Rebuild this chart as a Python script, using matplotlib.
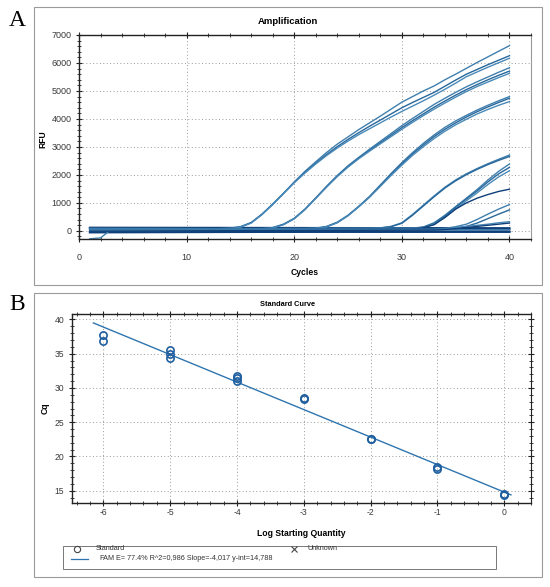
import matplotlib
matplotlib.use("Agg")
import matplotlib.pyplot as plt
from matplotlib.patches import Rectangle
from matplotlib.lines import Line2D
from matplotlib.ticker import MultipleLocator

plt.rcParams['font.family'] = ['Liberation Sans', 'DejaVu Sans']
plt.rcParams['axes.unicode_minus'] = False

# ---- panel A: amplification curves (RFU read per cycle) ----
cyc_base = [1, 10, 20, 30, 40]
base_lines = [
    [120, 115, 110, 105, 100],
    [100, 95, 92, 90, 88],
    [75, 70, 66, 62, 60],
    [-5, -10, -12, -15, -15],
    [-30, -32, -35, -38, -40],
    [-60, -50, -40, -35, -30],
]
cyc_dip = [1, 2, 3, 5, 10, 20, 30, 40]
rfu_dip = [-285, -250, 50, 70, 60, 50, 40, 40]

cyc_g1 = [1, 13, 14, 15, 16, 17, 18, 19, 20, 21, 22, 23, 24, 25, 26, 27,
          28, 29, 30, 31, 32, 33, 34, 35, 36, 37, 38, 39, 40]
rfu_g1a = [90, 80, 100, 150, 300, 600, 960, 1340, 1750, 2130, 2470, 2800,
           3100, 3360, 3620, 3860, 4100, 4350, 4600, 4800, 5000, 5180, 5400,
           5600, 5810, 6020, 6220, 6420, 6620]
rfu_g1b = [60, 60, 90, 140, 290, 590, 950, 1340, 1730, 2090, 2420, 2730,
           3010, 3270, 3510, 3740, 3960, 4180, 4400, 4590, 4770, 4950, 5170,
           5390, 5600, 5770, 5940, 6100, 6260]
rfu_g1c = [40, 40, 70, 130, 280, 580, 940, 1330, 1720, 2070, 2390, 2690,
           2960, 3210, 3440, 3650, 3860, 4070, 4270, 4460, 4650, 4850, 5060,
           5280, 5510, 5680, 5850, 6010, 6170]

cyc_g2 = [1, 17, 18, 19, 20, 21, 22, 23, 24, 25, 26, 27, 28, 29, 30, 31,
          32, 33, 34, 35, 36, 37, 38, 39, 40]
rfu_g2a = [70, 80, 120, 240, 450, 780, 1180, 1590, 1980, 2330, 2630, 2920,
           3200, 3480, 3760, 4020, 4270, 4520, 4740, 4950, 5150, 5330, 5500,
           5670, 5830]
rfu_g2b = [50, 60, 110, 230, 440, 770, 1170, 1580, 1960, 2300, 2600, 2880,
           3150, 3420, 3690, 3940, 4180, 4420, 4640, 4850, 5050, 5230, 5400,
           5560, 5710]
rfu_g2c = [30, 40, 100, 220, 430, 760, 1160, 1560, 1940, 2280, 2580, 2850,
           3110, 3370, 3630, 3880, 4120, 4350, 4570, 4780, 4980, 5160, 5320,
           5480, 5630]

cyc_g3 = [1, 21, 22, 23, 24, 25, 26, 27, 28, 29, 30, 31, 32, 33, 34, 35,
          36, 37, 38, 39, 40]
rfu_g3a = [80, 80, 100, 160, 310, 560, 880, 1230, 1640, 2050, 2440, 2800,
           3130, 3430, 3700, 3930, 4130, 4320, 4490, 4650, 4800]
rfu_g3b = [60, 70, 90, 150, 300, 550, 870, 1220, 1620, 2020, 2400, 2750,
           3070, 3370, 3630, 3860, 4070, 4260, 4430, 4590, 4740]
rfu_g3c = [40, 50, 80, 140, 290, 540, 860, 1200, 1590, 1980, 2350, 2700,
           3010, 3300, 3560, 3790, 3990, 4180, 4340, 4490, 4620]

cyc_g4 = [1, 27, 28, 29, 30, 31, 32, 33, 34, 35, 36, 37, 38, 39, 40]
rfu_g4a = [60, 90, 110, 160, 290, 590, 920, 1250, 1560, 1820, 2040, 2230,
           2400, 2560, 2710]
rfu_g4b = [40, 80, 100, 150, 270, 560, 890, 1220, 1530, 1790, 2010, 2200,
           2370, 2520, 2660]

cyc_g5 = [1, 31, 32, 33, 34, 35, 36, 37, 38, 39, 40]
rfu_g5a = [50, 100, 140, 290, 560, 870, 1170, 1480, 1820, 2130, 2390]
rfu_g5b = [30, 90, 130, 270, 530, 840, 1140, 1430, 1750, 2040, 2270]
rfu_g5c = [20, 80, 120, 240, 480, 780, 1080, 1360, 1660, 1930, 2150]
rfu_g5d = [10, 70, 110, 220, 480, 780, 1000, 1170, 1300, 1410, 1490]

cyc_g6 = [1, 33, 34, 35, 36, 37, 38, 39, 40]
rfu_g6a = [20, 60, 90, 150, 240, 410, 600, 780, 940]
rfu_g6b = [0, 50, 80, 110, 160, 280, 440, 600, 750]
rfu_g6c = [10, 40, 70, 110, 160, 200, 240, 290, 330]
rfu_g6d = [-10, 30, 50, 80, 120, 160, 200, 240, 280]

# ---- panel B: standard curve ----
std_log = [-6, -6, -5, -5, -5, -4, -4, -4, -3, -3, -2, -2, -1, -1, 0, 0]
std_cq = [37.7, 36.8, 35.6, 35.0, 34.4, 31.7, 31.4, 31.0, 28.6, 28.4,
          22.6, 22.5, 18.4, 18.2, 14.5, 14.4]
fit_slope = -4.017
fit_intercept = 14.788
fit_range = [-6.15, 0.1]
legend_fit = "E= 77.4% R^2=0,986 Slope=-4,017 y-int=14,788"

W, H = 550.0, 587.0


def fx(px):
    return px / W


def fy(py):
    return 1 - py / H


fig = plt.figure(figsize=(5.5, 5.87), dpi=100)

# panel frames
for top, bot in [(7, 285), (293, 577)]:
    fig.add_artist(Rectangle((fx(34), fy(bot)), 508 / W, (bot - top) / H,
                             transform=fig.transFigure, fill=False,
                             ec='#9a9a9a', lw=0.8))
fig.text(fx(17), fy(20), 'A', family='Liberation Serif', size=17,
         ha='center', va='center')
fig.text(fx(17), fy(304), 'B', family='Liberation Serif', size=17,
         ha='center', va='center')


def style_axes(ax):
    ax.grid(True, which='major', ls=(0, (1, 2.5)), color='#9a9a9a', lw=0.7)
    ax.set_axisbelow(True)
    ax.tick_params(which='major', direction='inout', length=4, width=0.8,
                   labelsize=6.5, labelcolor='#3a3a3a', color='#222222')
    ax.tick_params(which='minor', direction='inout', length=2.5, width=0.6,
                   color='#222222')
    for s in ['left', 'bottom', 'top']:
        ax.spines[s].set_color('#222222')
        ax.spines[s].set_linewidth(1.0)


# ---- A ----
axA = fig.add_axes([fx(79), fy(239), 452 / W, 204 / H])
fig.text(fx(288), fy(22), 'Amplification', ha='center', va='center',
         weight='bold', size=6.8)

light = '#3f7fae'
mid = '#27679b'
dark = '#0f3f78'
for vals in base_lines:
    axA.plot(cyc_base, vals, color=dark, lw=1.3)
axA.plot(cyc_dip, rfu_dip, color=light, lw=1.0)
groups = [
    (cyc_g1, [rfu_g1a, rfu_g1b, rfu_g1c]),
    (cyc_g2, [rfu_g2a, rfu_g2b, rfu_g2c]),
    (cyc_g3, [rfu_g3a, rfu_g3b, rfu_g3c]),
    (cyc_g4, [rfu_g4a, rfu_g4b]),
    (cyc_g5, [rfu_g5a, rfu_g5b, rfu_g5c, rfu_g5d]),
    (cyc_g6, [rfu_g6a, rfu_g6b, rfu_g6c, rfu_g6d]),
]
shades = [light, mid, '#4a8ab8', dark]
for cyc, curves in groups:
    for i, vals in enumerate(curves):
        axA.plot(cyc, vals, color=shades[i % len(shades)], lw=1.0)

axA.set_xlim(0, 42)
axA.set_ylim(-290, 7000)
axA.set_xticks([0, 10, 20, 30, 40])
axA.set_yticks(range(0, 7001, 1000))
axA.xaxis.set_minor_locator(MultipleLocator(2))
axA.yaxis.set_minor_locator(MultipleLocator(200))
style_axes(axA)
axA.spines['right'].set_color('#9a9a9a')
axA.spines['right'].set_linewidth(0.8)
axA.tick_params(top=True, which='both')
axA.tick_params(axis='x', which='major', pad=8)
axA.set_xlabel('Cycles', weight='bold', size=6.2)
axA.set_ylabel('RFU', weight='bold', size=6.2)
axA.xaxis.set_label_coords(0.5, -0.162)
axA.xaxis.label.set_va('center')
axA.yaxis.set_label_coords(-0.08, 0.49)
axA.yaxis.label.set_va('center')

# ---- B ----
axB = fig.add_axes([fx(72), fy(503), 459 / W, 189 / H])
fig.text(fx(288), fy(304), 'Standard Curve', ha='center', va='center',
         weight='bold', size=5.3)
axB.plot(fit_range, [fit_intercept + fit_slope * v for v in fit_range],
         color='#2e75b0', lw=1.0, zorder=2)
axB.plot(std_log, std_cq, ls='none', marker='o', ms=5.2, mfc='none',
         mec='#1f5f9f', mew=1.2, zorder=3)
axB.set_xlim(-6.47, 0.4)
axB.set_ylim(13.2, 40.8)
axB.set_xticks(range(-6, 1))
axB.set_yticks(range(15, 41, 5))
axB.xaxis.set_minor_locator(MultipleLocator(0.2))
axB.yaxis.set_minor_locator(MultipleLocator(1))
style_axes(axB)
axB.spines['right'].set_color('#222222')
axB.tick_params(top=True, right=True, which='both')
axB.tick_params(labelsize=6.2)
axB.tick_params(axis='x', which='major', pad=1.5)
axB.set_xlabel('Log Starting Quantity', weight='bold', size=6.2)
axB.set_ylabel('Cq', weight='bold', size=6.2)
axB.xaxis.set_label_coords(0.5, -0.159)
axB.xaxis.label.set_va('center')
axB.yaxis.set_label_coords(-0.059, 0.5)
axB.yaxis.label.set_va('center')

# legend box below panel B
fig.add_artist(Rectangle((fx(63), fy(569)), 433 / W, 23 / H,
                         transform=fig.transFigure, fill=False,
                         ec='#777777', lw=0.7))
fig.add_artist(Line2D([fx(77)], [fy(549)], marker='o', ms=4.5, mfc='none',
                      mec='#444444', mew=0.8, transform=fig.transFigure))
fig.text(fx(96), fy(549), 'Standard', size=5.2, va='center', color='#333333')
fig.add_artist(Line2D([fx(294)], [fy(549)], marker='x', ms=5,
                      mec='#444444', mew=0.8, transform=fig.transFigure))
fig.text(fx(307), fy(548), 'Unknown', size=5.2, va='center', color='#333333')
fig.add_artist(Line2D([fx(71), fx(88)], [fy(559), fy(559)], color='#2e75b0',
                      lw=0.9, transform=fig.transFigure))
fig.text(fx(99), fy(559), 'FAM', size=5.2, va='center', color='#333333')
fig.text(fx(116), fy(559), legend_fit, size=5.2, va='center', color='#333333')

fig.savefig('out.png', dpi=100)
